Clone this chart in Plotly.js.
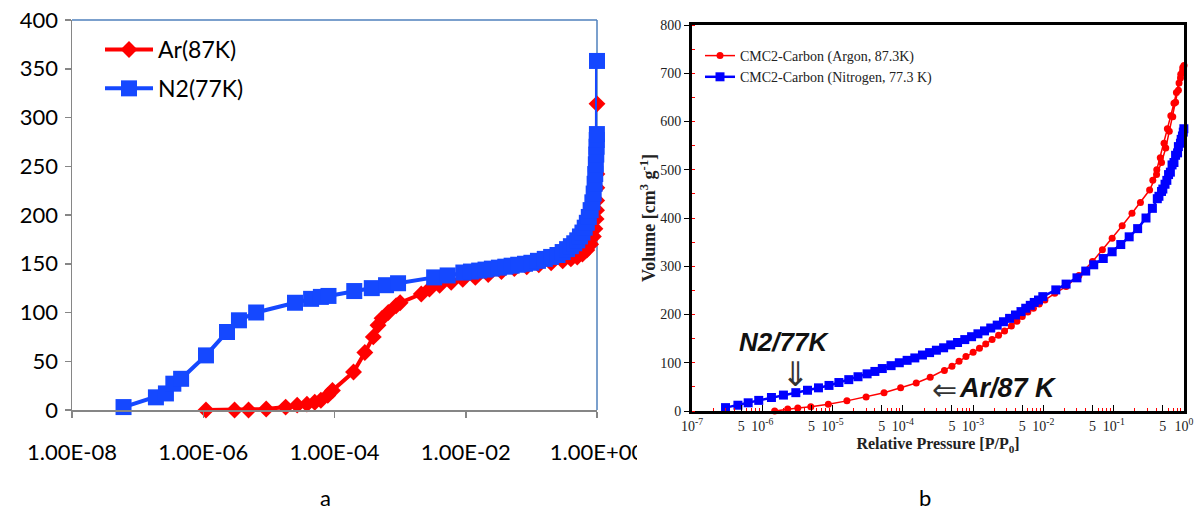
<!DOCTYPE html>
<html>
<head>
<meta charset="utf-8">
<script src="https://cdn.plot.ly/plotly-3.0.1.min.js"></script>
<style>html,body{margin:0;padding:0;background:#fff}#chart{width:1202px;height:513px}</style>
</head>
<body>
<div id="chart"></div>
<script>
// ---------- Panel a (Excel-style) ----------
const arA_x = [1.1e-6, 3.0e-6, 4.9e-6, 9.1e-6, 1.8e-5, 2.7e-5, 3.8e-5, 5.0e-5, 6.2e-5, 7.9e-5, 9.3e-5,
  1.95e-4, 2.9e-4, 3.9e-4, 4.6e-4, 5.3e-4, 6.6e-4, 8.7e-4, 1.0e-3, 2.1e-3, 2.8e-3, 4.0e-3, 6.0e-3, 9.0e-3,
  0.014, 0.022, 0.035, 0.055, 0.085, 0.13, 0.2, 0.3, 0.4, 0.5, 0.6, 0.7, 0.8, 0.88, 0.93, 0.97,
  0.985, 0.99, 0.995, 0.998, 1.0];
const arA_y = [0, 0, 0, 1, 3, 5, 6, 8, 10, 15, 20,
  39, 59, 75, 87, 94, 100, 107, 110, 119, 124, 128, 131, 134,
  136, 139, 142, 145, 147, 149, 151, 153, 155, 157, 160, 164, 170, 178, 186, 196,
  205, 215, 228, 242, 314];

const n2A_x = [6.1e-8, 1.9e-7, 2.7e-7, 3.5e-7, 4.6e-7, 1.1e-6, 2.3e-6, 3.5e-6, 6.4e-6,
  2.5e-5, 4.4e-5, 6.2e-5, 8.1e-5, 2.0e-4, 3.7e-4, 6.1e-4, 9.3e-4, 3.3e-3, 5.3e-3, 9.2e-3,
  0.012, 0.016, 0.02, 0.025, 0.032, 0.04, 0.05, 0.063, 0.08, 0.1, 0.126, 0.16, 0.2, 0.25,
  0.3, 0.35, 0.4, 0.45, 0.5, 0.55, 0.6, 0.65, 0.7, 0.75, 0.8, 0.85, 0.89, 0.92, 0.94, 0.96,
  0.975, 0.985, 0.992, 0.997, 1.0];
const n2A_y = [3, 13, 17, 27, 32, 56, 80, 92, 100,
  110, 114, 116, 117, 122, 125, 128, 130, 136, 138, 141,
  142, 143, 144, 145, 146, 147, 148, 149, 150, 151, 153, 155, 157, 159,
  162, 165, 168, 171, 174, 178, 182, 187, 192, 198, 205, 213, 222, 232, 242, 252,
  262, 270, 277, 283, 358];

const tickValsA = [1e-8, 1e-6, 1e-4, 1e-2, 1];
const tickTextA = ['1.00E-08', '1.00E-06', '1.00E-04', '1.00E-02', '1.00E+00'];

// ---------- Panel b ----------
const arB_x = [1.5e-6, 2.3e-6, 3.2e-6, 4.9e-6, 8.7e-6, 1.6e-5, 3.0e-5, 5.4e-5, 9.3e-5, 1.55e-4,
  2.45e-4, 3.9e-4, 5.0e-4, 6.3e-4, 7.9e-4, 1.0e-3, 1.23e-3, 1.51e-3, 1.86e-3, 2.3e-3,
  2.8e-3, 3.5e-3, 4.2e-3, 5.0e-3, 6.0e-3, 7.2e-3, 8.7e-3, 0.0105, 0.0145, 0.021,
  0.032, 0.050, 0.069, 0.095, 0.132, 0.182, 0.24, 0.324, 0.407, 0.479,
  0.55, 0.617, 0.692, 0.759, 0.832, 0.891, 0.955, 1.0,
  0.96, 0.90, 0.85, 0.78, 0.72, 0.65, 0.58, 0.52, 0.46, 0.41, 0.36];
const arB_y = [0, 4, 6, 9, 14, 21, 29, 38, 48, 58,
  70, 84, 93, 103, 113, 122, 130, 139, 148, 157,
  166, 176, 186, 196, 205, 213, 222, 230, 244, 258,
  281, 310, 334, 358, 384, 410, 432, 458, 490, 515,
  545, 580, 610, 640, 665, 690, 705, 716,
  712, 698, 680, 660, 638, 612, 585, 555, 525, 500, 478];

const n2B_x = [3.0e-7, 4.5e-7, 6.3e-7, 8.9e-7, 1.35e-6, 2.0e-6, 3.0e-6, 4.4e-6, 6.3e-6, 8.9e-6,
  1.23e-5, 1.7e-5, 2.3e-5, 3.1e-5, 4.0e-5, 5.1e-5, 6.8e-5, 8.9e-5, 1.15e-4, 1.48e-4,
  1.9e-4, 2.4e-4, 3.0e-4, 3.8e-4, 4.8e-4, 6.0e-4, 7.6e-4, 9.5e-4, 1.17e-3, 1.45e-3,
  1.78e-3, 2.2e-3, 2.7e-3, 3.3e-3, 4.0e-3, 4.8e-3, 5.6e-3, 6.5e-3, 7.4e-3, 8.5e-3,
  9.8e-3, 0.015, 0.021, 0.030, 0.040, 0.052, 0.071, 0.095, 0.126, 0.166,
  0.219, 0.288, 0.355, 0.417, 0.479, 0.537, 0.603, 0.676, 0.759, 0.832, 0.912, 0.977, 0.995,
  0.95, 0.89, 0.81, 0.72, 0.64, 0.57, 0.50, 0.44];
const n2B_y = [7, 12, 17, 22, 28, 33, 38, 43, 48, 53,
  59, 65, 71, 77, 82, 88, 94, 100, 105, 110,
  116, 121, 126, 131, 137, 142, 148, 154, 160, 166,
  172, 178, 185, 192, 199, 206, 213, 219, 225, 230,
  237, 251, 263, 276, 290, 303, 316, 330, 345, 361,
  378, 400, 420, 440, 455, 470, 490, 510, 530, 548, 563, 578, 585,
  570, 555, 535, 515, 495, 478, 460, 445];

const tickValsB = [1e-7, 5e-7, 1e-6, 5e-6, 1e-5, 5e-5, 1e-4, 5e-4, 1e-3, 5e-3, 1e-2, 5e-2, 1e-1, 5e-1, 1];
const tickTextB = ['10<sup>-7</sup>', '5', '10<sup>-6</sup>', '5', '10<sup>-5</sup>', '5', '10<sup>-4</sup>',
  '5', '10<sup>-3</sup>', '5', '10<sup>-2</sup>', '5', '10<sup>-1</sup>', '5', '10<sup>0</sup>'];
const minorB = [];
for (let e = -7; e < 0; e++) {
  [2, 3, 4, 6, 7, 8, 9].forEach(m => minorB.push(m * Math.pow(10, e)));
}

const W = 1202, H = 513;
const px = v => v / W, py = v => 1 - v / H;

const traces = [
  {x: arA_x, y: arA_y, xaxis: 'x', yaxis: 'y', name: 'Ar(87K)', mode: 'lines+markers', legend: 'legend', legendgroup: 'a1',
   line: {color: '#FF0000', width: 4}, marker: {symbol: 'diamond', size: 13, color: '#FF0000'}, cliponaxis: false},
  {x: n2A_x, y: n2A_y, xaxis: 'x', yaxis: 'y', name: 'N2(77K)', mode: 'lines+markers', legend: 'legend', legendgroup: 'a2',
   line: {color: '#1548FF', width: 4}, marker: {symbol: 'square', size: 16, color: '#1548FF'}, cliponaxis: false},
  {x: arB_x, y: arB_y, xaxis: 'x2', yaxis: 'y2', name: 'CMC2-Carbon (Argon, 87.3K)', mode: 'lines+markers', legend: 'legend2',
   line: {color: '#FF0000', width: 1.5}, marker: {symbol: 'circle', size: 7, color: '#FF0000'}, cliponaxis: false},
  {x: n2B_x, y: n2B_y, xaxis: 'x2', yaxis: 'y2', name: 'CMC2-Carbon (Nitrogen, 77.3 K)', mode: 'lines+markers', legend: 'legend2',
   line: {color: '#0000FF', width: 2.5}, marker: {symbol: 'square', size: 9, color: '#0000FF'}, cliponaxis: false}
];

const fontA = {family: 'Lato, "Open Sans", sans-serif', size: 22, color: '#000'};
const fontLeg = {family: 'Lato, "Open Sans", sans-serif', size: 23, color: '#000'};
const serif = '"Liberation Serif", "DejaVu Serif", serif';

const layout = {
  width: W, height: H,
  margin: {l: 0, r: 0, t: 0, b: 0},
  paper_bgcolor: '#fff', plot_bgcolor: '#fff',
  showlegend: true,
  xaxis: {
    type: 'log', domain: [px(72), px(597)], range: [-8, 0], anchor: 'y',
    tickmode: 'array', tickvals: tickValsA, ticktext: tickTextA,
    ticks: 'outside', ticklen: 6, tickcolor: '#868686', tickwidth: 1.5,
    showline: true, linecolor: '#868686', linewidth: 1.5,
    showgrid: false, zeroline: false, tickfont: fontA, ticklabelstandoff: 16
  },
  yaxis: {
    domain: [py(410), py(20)], range: [0, 400], anchor: 'x', dtick: 50,
    ticks: 'outside', ticklen: 6, tickcolor: '#868686', tickwidth: 1.5,
    showline: true, linecolor: '#868686', linewidth: 1.5,
    showgrid: false, zeroline: false, tickfont: fontA, ticklabelstandoff: 2
  },
  xaxis2: {
    type: 'log', domain: [px(692), px(1184)], range: [-7, 0], anchor: 'y2',
    tickmode: 'array', tickvals: tickValsB, ticktext: tickTextB,
    ticks: 'inside', ticklen: 6, tickcolor: '#000', tickwidth: 1,
    minor: {tickmode: 'array', tickvals: minorB, ticks: 'inside', ticklen: 3, tickcolor: '#FF0000', tickwidth: 1},
    showline: true, linecolor: '#000', linewidth: 3, mirror: true,
    showgrid: false, zeroline: false,
    tickfont: {family: serif, size: 14, color: '#222'},
    title: {text: '<b>Relative Pressure [P/P<sub>0</sub>]</b>', font: {family: serif, size: 16, color: '#222'}, standoff: 6}
  },
  yaxis2: {
    domain: [py(411), py(25)], range: [0, 800], anchor: 'x2', dtick: 100,
    ticks: 'outside', ticklen: 5, tickcolor: '#000', tickwidth: 1,
    minor: {dtick: 50, ticks: 'inside', ticklen: 3, tickcolor: '#FF0000', tickwidth: 1},
    showline: true, linecolor: '#000', linewidth: 3, mirror: true,
    showgrid: false, zeroline: false,
    tickfont: {family: serif, size: 14, color: '#222'},
    title: {text: '<b>Volume [cm<sup>3</sup> g<sup>-1</sup>]</b>', font: {family: serif, size: 18, color: '#222'}, standoff: 0}
  },
  legend: {
    x: px(100), y: py(28), xanchor: 'left', yanchor: 'top',
    font: fontLeg, bgcolor: 'rgba(0,0,0,0)', borderwidth: 0,
    traceorder: 'grouped', tracegroupgap: 6, itemwidth: 48
  },
  legend2: {
    x: px(700), y: py(40), xanchor: 'left', yanchor: 'top',
    font: {family: serif, size: 14, color: '#222'}, bgcolor: 'rgba(0,0,0,0)', borderwidth: 0,
    traceorder: 'normal', itemwidth: 30
  },
  shapes: [
    {type: 'line', xref: 'x domain', yref: 'y domain', x0: 0, x1: 1, y0: 1, y1: 1, line: {color: '#4F81BD', width: 1.5}, layer: 'below'},
    {type: 'line', xref: 'x domain', yref: 'y domain', x0: 1, x1: 1, y0: 0, y1: 1, line: {color: '#4F81BD', width: 1.5}, layer: 'below'},
    {type: 'rect', xref: 'paper', yref: 'paper', x0: px(637), x1: px(660), y0: py(472), y1: py(432), fillcolor: '#fff', line: {width: 0}, layer: 'above'}
  ],
  annotations: [
    {text: 'a', xref: 'paper', yref: 'paper', x: px(325), y: py(497), yanchor: 'middle', xanchor: 'center', showarrow: false, font: fontA},
    {text: 'b', xref: 'paper', yref: 'paper', x: px(925), y: py(497), yanchor: 'middle', xanchor: 'center', showarrow: false, font: fontA},
    {text: '<b><i>N2/77K</i></b>', xref: 'paper', yref: 'paper', x: px(784), y: py(342), yanchor: 'middle', xanchor: 'center', showarrow: false,
     font: {family: '"Liberation Sans", Arial, sans-serif', size: 26, color: '#111'}},
    {text: '⇓', xref: 'paper', yref: 'paper', x: px(795), y: py(374), yanchor: 'middle', xanchor: 'center', showarrow: false,
     font: {family: '"DejaVu Sans", sans-serif', size: 34, color: '#333'}},
    {text: '⇐', xref: 'paper', yref: 'paper', x: px(944), y: py(389), yanchor: 'middle', xanchor: 'center', showarrow: false,
     font: {family: '"DejaVu Sans", sans-serif', size: 30, color: '#333'}},
    {text: '<b><i>Ar/87 K</i></b>', xref: 'paper', yref: 'paper', x: px(957), y: py(388), yanchor: 'middle', xanchor: 'left', showarrow: false,
     font: {family: '"Liberation Sans", Arial, sans-serif', size: 27, color: '#111'}}
  ]
};

Plotly.newPlot('chart', traces, layout, {displayModeBar: false, staticPlot: true});
</script>
</body>
</html>
